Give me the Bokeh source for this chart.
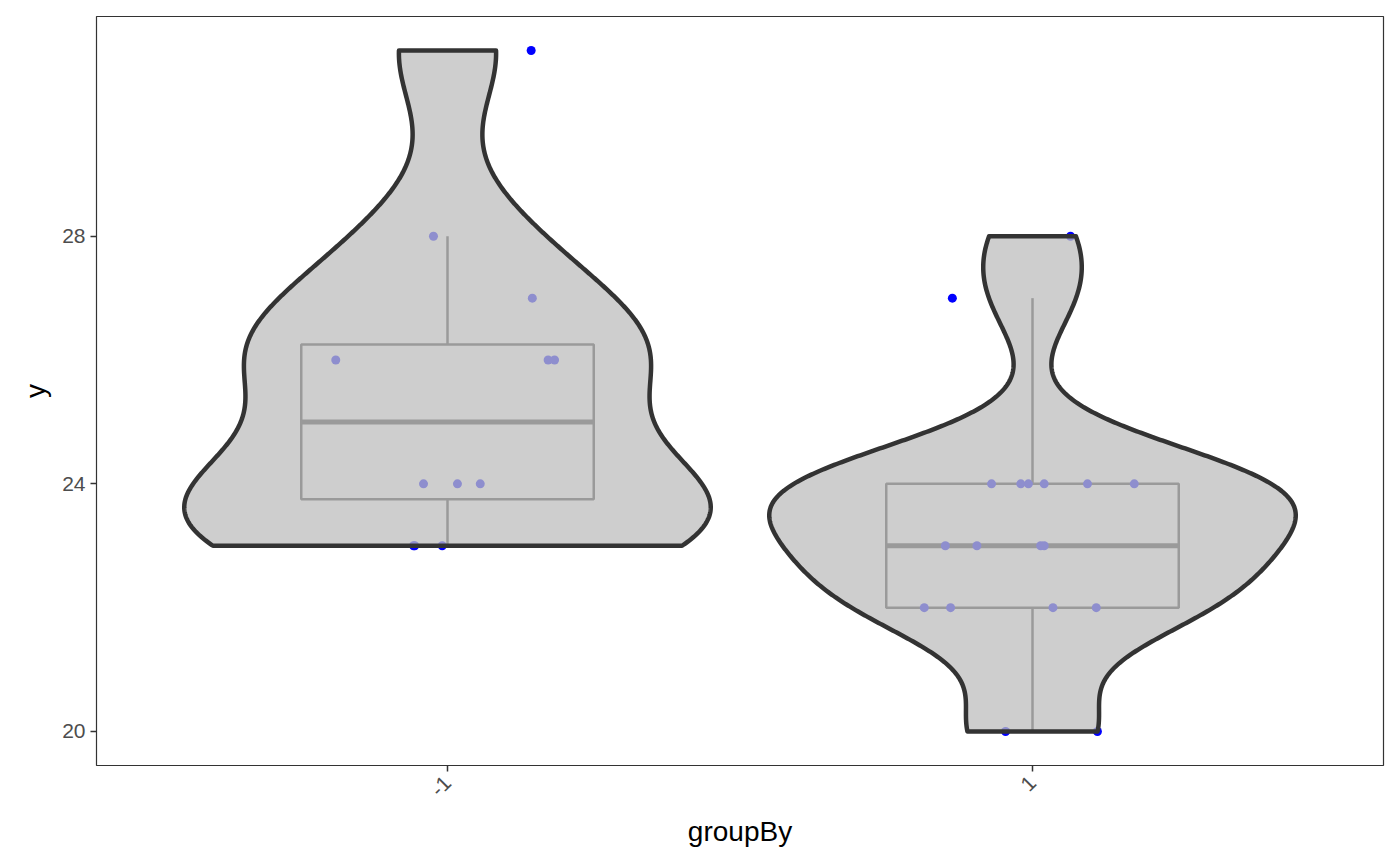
import math
import numpy as np
from bokeh.plotting import figure
from bokeh.models import Range1d, FixedTicker
from bokeh.embed import file_html
from bokeh.resources import INLINE

# ---- data ----
groups = ["-1", "1"]
group_pos = [1, 2]

y_neg = [31, 28, 27, 26, 26, 26, 24, 24, 24, 23, 23, 23]
jit_neg = [0.143, -0.024, 0.145, -0.191, 0.172, 0.183, -0.041, 0.017, 0.056, -0.058, -0.009, -0.056]

y_pos = [28, 27, 24, 24, 24, 24, 24, 24, 23, 23, 23, 23, 22, 22, 22, 22, 20, 20]
jit_pos = [0.065, -0.137, -0.070, -0.020, -0.007, 0.020, 0.094, 0.174,
           -0.149, -0.095, 0.014, 0.020, -0.185, -0.140, 0.035, 0.109, -0.046, 0.111]

y_ticks = [20, 24, 28]

# ---- style ----
VIOLIN_WIDTH = 0.9
BOX_WIDTH = 0.5
FONT = "Liberation Sans"


def bw_nrd0(x):
    x = np.asarray(x, dtype=float)
    sd = np.std(x, ddof=1)
    iqr = np.percentile(x, 75) - np.percentile(x, 25)
    lo = min(sd, iqr / 1.34)
    return 0.9 * lo * len(x) ** (-0.2)


def kde(x, n=512):
    x = np.asarray(x, dtype=float)
    bw = bw_nrd0(x)
    grid = np.linspace(x.min(), x.max(), n)
    z = (grid[:, None] - x[None, :]) / bw
    dens = np.exp(-0.5 * z ** 2).sum(axis=1) / (len(x) * bw * math.sqrt(2 * math.pi))
    return grid, dens


def box_stats(x):
    x = np.asarray(x, dtype=float)
    q1, med, q3 = np.percentile(x, [25, 50, 75])
    iqr = q3 - q1
    lo_f, hi_f = q1 - 1.5 * iqr, q3 + 1.5 * iqr
    wlo = x[x >= lo_f].min()
    whi = x[x <= hi_f].max()
    return q1, med, q3, wlo, whi


p = figure(frame_width=1287, frame_height=749,
           x_range=Range1d(0.4, 2.6), y_range=Range1d(19.45, 31.55),
           output_backend="svg", toolbar_location=None,
           min_border_left=96, min_border_right=9,
           min_border_top=16, min_border_bottom=93)
p.xgrid.visible = False
p.ygrid.visible = False
p.outline_line_color = "#333333"
p.outline_line_width = 1.2
p.background_fill_color = "white"
p.border_fill_color = "white"

for pos, ys, jit in zip(group_pos, [y_neg, y_pos], [jit_neg, jit_pos]):
    # boxplot (drawn below, seen through the violin fill)
    q1, med, q3, wlo, whi = box_stats(ys)
    p.quad(left=[pos - BOX_WIDTH / 2], right=[pos + BOX_WIDTH / 2], bottom=[q1], top=[q3],
           fill_color=None, line_color="#333333", line_width=2.5)
    p.segment(x0=[pos - BOX_WIDTH / 2], x1=[pos + BOX_WIDTH / 2], y0=[med], y1=[med],
              line_color="#333333", line_width=5)
    p.segment(x0=[pos, pos], x1=[pos, pos], y0=[q3, q1], y1=[whi, wlo],
              line_color="#333333", line_width=2.5)
    # jittered points
    xs = [pos + j for j in jit]
    p.scatter(x=xs, y=ys, size=9, fill_color="#0000FF", line_color=None)
    # violin
    grid, dens = kde(ys)
    hw = VIOLIN_WIDTH / 2 * dens / dens.max()
    px = list(pos - hw) + list((pos + hw)[::-1])
    py = list(grid) + list(grid[::-1])
    p.patch(x=px, y=py, fill_color="#BEBEBE", fill_alpha=0.75,
            line_color="#333333", line_width=4.5, line_join="round")

# axes
p.xaxis.ticker = FixedTicker(ticks=group_pos)
p.xaxis.major_label_overrides = {pos: g for pos, g in zip(group_pos, groups)}
p.xaxis.major_label_orientation = math.pi / 4
p.yaxis.ticker = FixedTicker(ticks=y_ticks)
for ax in (p.xaxis, p.yaxis):
    ax.axis_line_color = None
    ax.major_tick_line_color = "#333333"
    ax.major_tick_line_width = 1.5
    ax.major_tick_out = 6
    ax.major_tick_in = 0
    ax.minor_tick_line_color = None
    ax.major_label_text_font = FONT
    ax.major_label_text_font_size = "21px"
    ax.major_label_text_color = "#4D4D4D"
    ax.axis_label_text_font = FONT
    ax.axis_label_text_font_size = "28px"
    ax.axis_label_text_font_style = "normal"
    ax.axis_label_text_color = "black"
p.xaxis.axis_label = "groupBy"
p.yaxis.axis_label = "y"
p.yaxis.major_label_standoff = 5
p.yaxis.axis_label_standoff = 8
p.xaxis.major_label_standoff = 8
p.xaxis.axis_label_standoff = 10

open("out.html", "w").write(file_html(p, INLINE))
